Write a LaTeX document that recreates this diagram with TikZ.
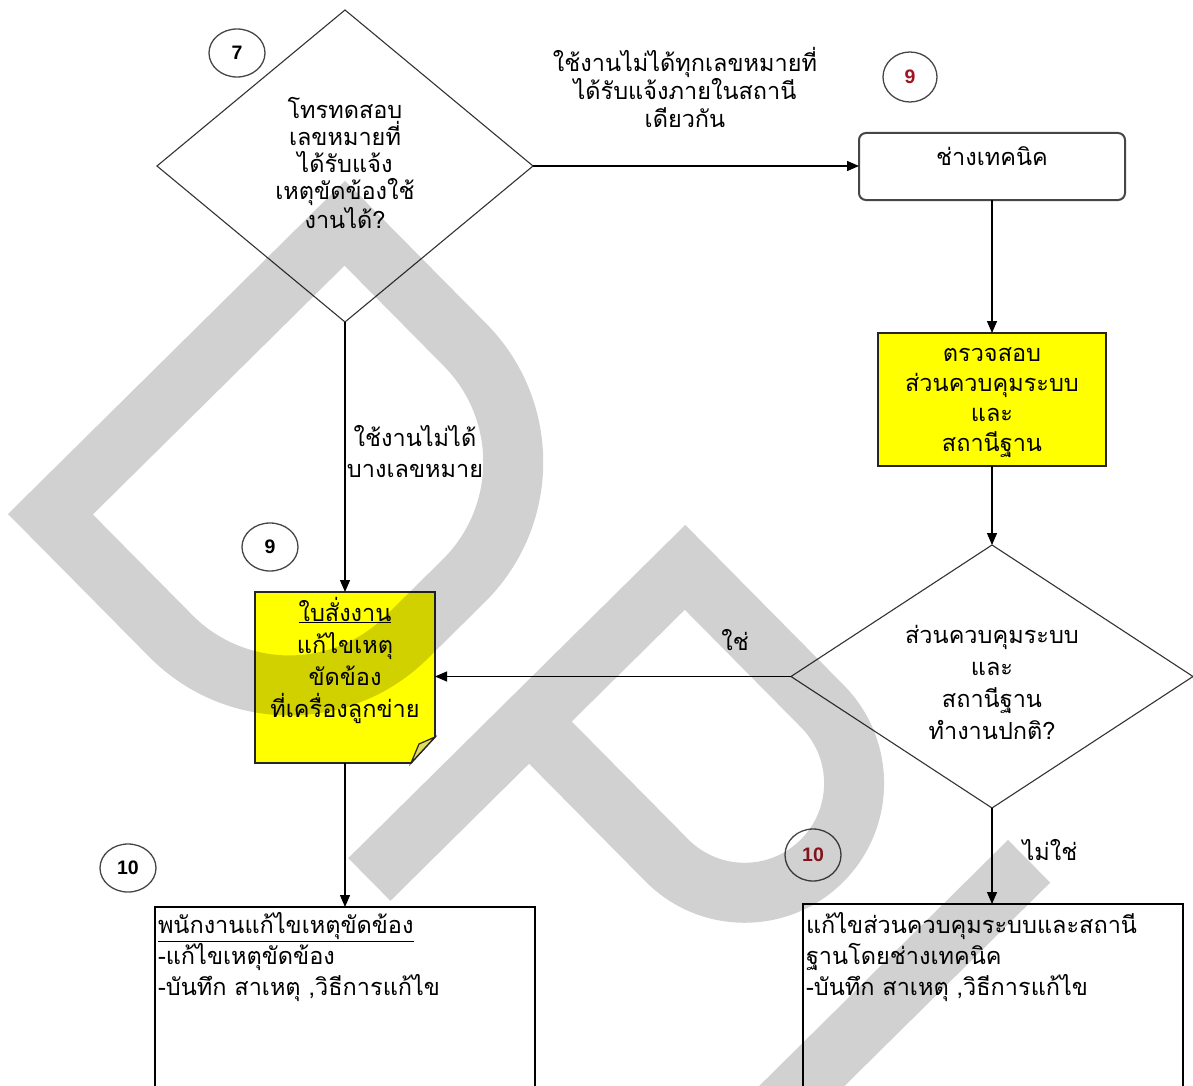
\documentclass[tikz,border=0pt]{standalone}
\usepackage{fontspec}
\newfontfamily\thai[Script=Thai]{Loma}
\newfontfamily\numfont{Liberation Sans}
\usetikzlibrary{shapes.geometric,arrows.meta,calc}
\definecolor{noteyellow}{RGB}{255,255,0}
\definecolor{foldyellow}{RGB}{222,222,90}
\definecolor{numred}{RGB}{160,22,32}
\definecolor{rimgray}{RGB}{70,70,70}
\newcommand{\thaisize}[1]{\thai\fontsize{23.5}{#1}\selectfont}
\begin{document}
\begin{tikzpicture}[x=1pt,y=-1pt,
  every node/.style={inner sep=0pt,outer sep=0pt},
  thaitxt/.style={font=\thaisize{31},align=center},
  decision/.style={diamond,draw=black!80,line width=1.1pt},
  marker/.style={ellipse,draw=rimgray,line width=1.3pt,minimum width=56pt,minimum height=48pt,
    font=\numfont\bfseries\fontsize{19.5}{19.5}\selectfont},
  flow/.style={line width=1.3pt,-{Triangle[length=12pt,width=10pt]}},
  task/.style={rectangle,draw=black,line width=1.5pt},
  watermark/.style={fill=black,fill opacity=0.18,even odd rule}
]
\useasboundingbox (0,0) rectangle (1193,1086);
\fill[white] (0,0) rectangle (1193,1086);

% decisions
\node[decision,minimum width=376pt,minimum height=312pt] (d1) at (345,166) {};
\node[thaitxt,font=\thaisize{27}] (d1t) at (345,163)
  {โทรทดสอบ\\เลขหมายที่\\ได้รับแจ้ง\\เหตุขัดข้องใช้\\งานได้?};
\node[decision,minimum width=402pt,minimum height=263pt] (d2) at (992,676.5) {};
\node[thaitxt,font=\thaisize{32}] (d2t) at (992,682)
  {ส่วนควบคุมระบบ\\และ\\สถานีฐาน\\ทำงานปกติ?};

% technician
\node[rectangle,rounded corners=7pt,draw=rimgray,line width=2pt,
  minimum width=266pt,minimum height=67pt] (tech) at (992,166.5) {};
\node[thaitxt] (techt) at (992,156) {ช่างเทคนิค};

% inspection box
\node[rectangle,draw=black!85,line width=2pt,fill=noteyellow,
  minimum width=228pt,minimum height=133pt] (chk) at (992,399.5) {};
\node[thaitxt,font=\thaisize{30}] (chkt) at (992,402.5)
  {ตรวจสอบ\\ส่วนควบคุมระบบ\\และ\\สถานีฐาน};

% work order note with folded corner
\node[minimum width=180pt,minimum height=171pt] (note) at (345,677.5) {};
\filldraw[fill=noteyellow,draw=black!85,line width=1.6pt]
  (note.north west) -- (note.north east) -- ($(note.south east)+(0,-26)$)
  -- ($(note.south east)+(-24,0)$) -- (note.south west) -- cycle;
\filldraw[fill=foldyellow,draw=black!85,line width=1.2pt]
  ($(note.south east)+(0,-26)$) .. controls ($(note.south east)+(-8,-22)$) ..
  ($(note.south east)+(-16,-19)$) -- ($(note.south east)+(-24,0)$) -- cycle;
\node[thaitxt,font=\thaisize{32}] (notet) at (345,660)
  {\underline{ใบสั่งงาน}\\แก้ไขเหตุ\\ขัดข้อง\\ที่เครื่องลูกข่าย};

% repair boxes
\node[task,minimum width=380pt,minimum height=200pt,anchor=north] (fixl) at (345,907) {};
\node[thaitxt,align=left,anchor=west] (fixlt) at (158,957)
  {\underline{พนักงานแก้ไขเหตุขัดข้อง}\\-แก้ไขเหตุขัดข้อง\\-บันทึก สาเหตุ ,วิธีการแก้ไข};
\node[task,minimum width=380pt,minimum height=200pt,anchor=north] (fixr) at (993,904) {};
\node[thaitxt,align=left,anchor=west] (fixrt) at (806,957)
  {แก้ไขส่วนควบคุมระบบและสถานี\\ฐานโดยช่างเทคนิค\\-บันทึก สาเหตุ ,วิธีการแก้ไข};

% step markers
\node[marker] (m7) at (237,53) {7};
\node[marker,text=numred,minimum height=50pt,minimum width=54pt] (m9r) at (910,77) {9};
\node[marker] (m9) at (270,547) {9};
\node[marker] (m10) at (128,868) {10};
\node[marker,text=numred,minimum height=52pt] (m10r) at (813,855) {10};

% connector labels
\node[thaitxt,font=\thaisize{28}] (lblall) at (685,87)
  {ใช้งานไม่ได้ทุกเลขหมายที่\\ได้รับแจ้งภายในสถานี\\เดียวกัน};
\node[thaitxt] (lblsome) at (415,452) {ใช้งานไม่ได้\\บางเลขหมาย};
\node[thaitxt] (lblyes) at (735,640) {ใช่};
\node[thaitxt] (lblno) at (1050,850) {ไม่ใช่};

% connectors
\draw[flow] (d1.east) -- (d1.east -| tech.west);
\draw[flow] (tech.south) -- (tech.south |- chk.north);
\draw[flow] (chk.south) -- (chk.south |- d2.north);
\draw[flow] (d2.west) -- (d2.west -| note.east);
\draw[flow] (d1.south) -- (d1.south |- note.north);
\draw[flow] (note.south) -- (note.south |- fixl.north);
\draw[flow] (d2.south) -- (d2.south |- fixr.north);

% translucent lettering laid over the chart, in a frame tilted by 45 degrees
\begin{scope}[shift={(8,514)},x={(0.711pt,0.703pt)},y={(0.703pt,-0.711pt)}]
  % D
  \fill[watermark]
    (0,0) -- (474,0) -- (474,201) .. controls (474,309.8) and (385.8,398) .. (277,398)
    -- (197,398) .. controls (88.2,398) and (0,309.8) .. (0,201) -- cycle
    (60,60) -- (414,60) -- (414,201) .. controls (414,276.7) and (352.7,338) .. (277,338)
    -- (197,338) .. controls (121.3,338) and (60,276.7) .. (60,201) -- cycle;
  % P
  \fill[watermark]
    (0,484) -- (474,484) -- (474,709.5) .. controls (474,786.5) and (411.5,849) .. (334.5,849)
    .. controls (257.5,849) and (195,786.5) .. (195,709.5) -- (195,544) -- (0,544) -- cycle
    (255,544) -- (414,544) -- (414,709.5) .. controls (414,753.4) and (378.4,789) .. (334.5,789)
    .. controls (290.6,789) and (255,753.4) .. (255,709.5) -- cycle;
  % third stem
  \fill[watermark] (-120,935) -- (482,935) -- (482,995) -- (-120,995) -- cycle;
\end{scope}
\end{tikzpicture}
\end{document}
